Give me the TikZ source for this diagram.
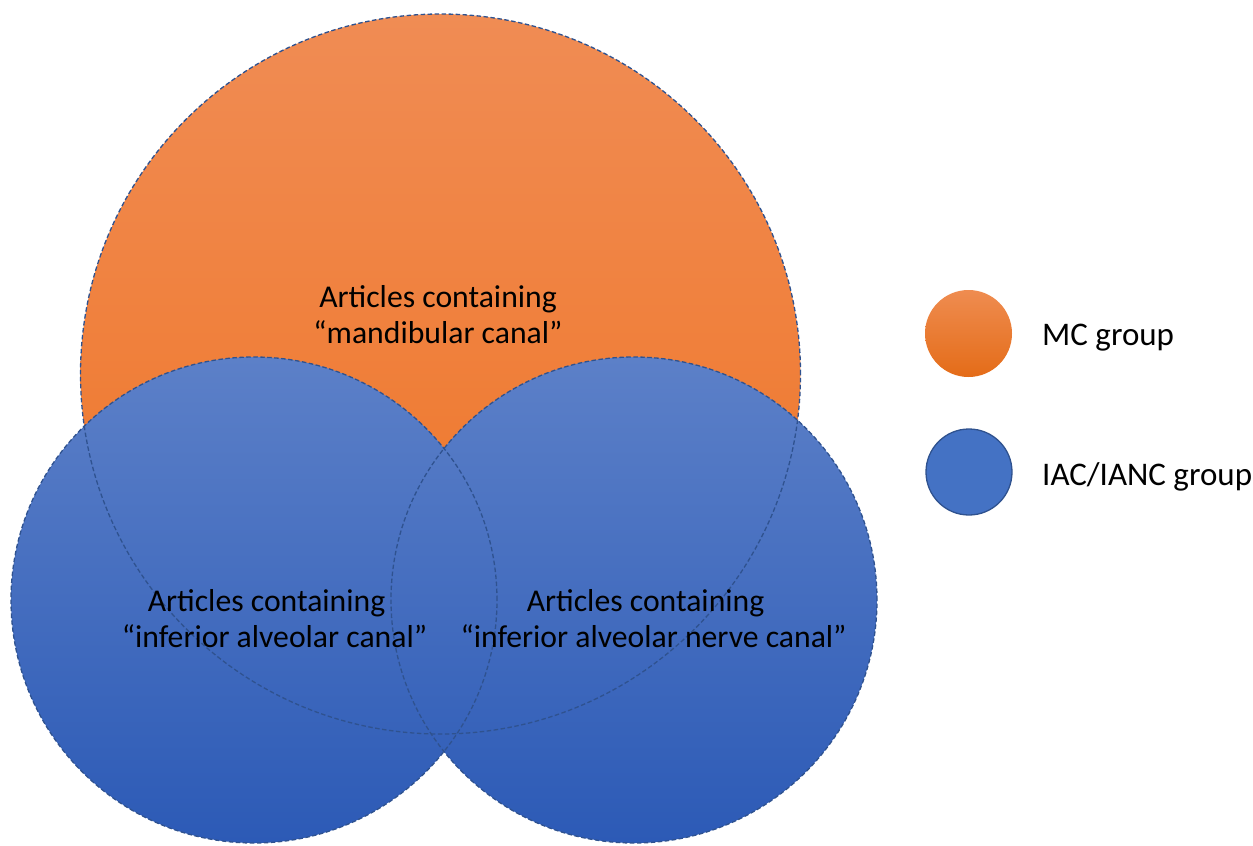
\documentclass[tikz,border=0pt]{standalone}
\usepackage{fontspec}
\setmainfont{Carlito}
\definecolor{orTop}{RGB}{240,140,84}
\definecolor{orBot}{RGB}{239,114,32}
\definecolor{blTop}{RGB}{92,128,200}
\definecolor{blBot}{RGB}{44,90,182}
\definecolor{outl}{RGB}{47,82,143}
\definecolor{legOrTop}{RGB}{239,140,80}
\definecolor{legOrBot}{RGB}{228,108,24}
\definecolor{legBl}{RGB}{68,114,196}
\tikzset{
  outline/.style={draw=outl, line width=1.3pt, dash pattern=on 4.5pt off 2.5pt},
  label/.style={font=\fontsize{31.7}{36}\selectfont, align=center, inner sep=0pt, text=black},
  legtext/.style={font=\fontsize{33}{38}\selectfont, anchor=base west, inner sep=0pt, text=black},
}
\begin{document}
\begin{tikzpicture}[x=1pt,y=-1pt]
\useasboundingbox (0,0) rectangle (1253,846);
% fills
\shade[top color=orTop, bottom color=orBot] (440.5,374) circle[radius=360pt];
\shade[top color=blTop, bottom color=blBot] (254,600) circle[radius=243pt];
\shade[top color=blTop, bottom color=blBot] (634,600) circle[radius=243pt];
% outlines
\path[outline] (440.5,374) circle[radius=360pt];
\path[outline] (254,600) circle[radius=243pt];
\path[outline] (634,600) circle[radius=243pt];
% labels
\node[label] (mc) at (438,314.5) {Articles containing\\“mandibular canal”};
\node[label] (iac) at (274.5,619) {Articles containing\kern16pt\\“inferior alveolar canal”};
\node[label] (ianc) at (653.5,619) {Articles containing\kern16pt\\“inferior alveolar nerve canal”};
% legend
\shade[top color=legOrTop, bottom color=legOrBot] (968.5,333.5) circle[radius=43.5pt];
\node[legtext] (mcleg) at (1042,345) {MC group};
\path[fill=legBl, draw=outl, line width=1.3pt] (969,472) circle[radius=43pt];
\node[legtext] (iacleg) at (1042,485) {IAC/IANC group};
\end{tikzpicture}
\end{document}
